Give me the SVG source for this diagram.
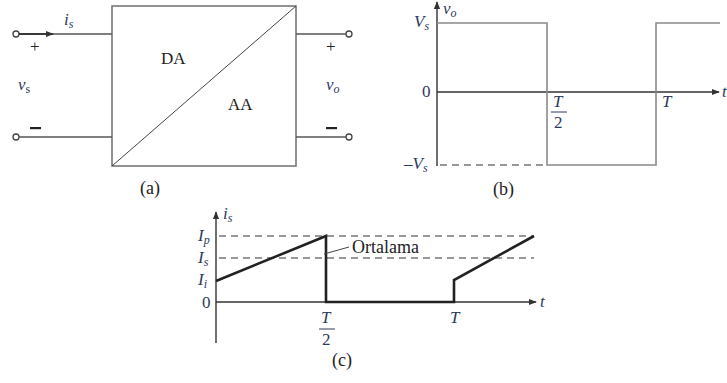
<svg xmlns="http://www.w3.org/2000/svg" width="727" height="383" viewBox="0 0 727 383">
<style>
.w{stroke:#555;stroke-width:1.6;fill:none}
.ax{stroke:#333;stroke-width:1.4;fill:none}
.g{stroke:#8a8a8a;stroke-width:1.6;fill:none}
.d{stroke:#333;stroke-width:1.2;fill:none;stroke-dasharray:7 5}
.wf{stroke:#222;stroke-width:2.6;fill:none}
.t{font-family:"Liberation Serif",serif;font-size:17px;fill:#222}
.cap{font-family:"Liberation Serif",serif;font-size:18px;fill:#222}
.m{font-family:"Liberation Serif",serif;font-size:17px;fill:#2e3a5c;font-style:italic}
.n{font-family:"Liberation Serif",serif;font-size:17px;fill:#2e3a5c}
.sub{font-size:12px}
</style>
<defs>
<marker id="ah" viewBox="0 0 10 10" refX="9" refY="5" markerWidth="8" markerHeight="8" markerUnits="userSpaceOnUse" orient="auto"><path d="M0,1 L10,5 L0,9 z" fill="#333"/></marker>
</defs>
<g id="panel-a">
<g id="converter">
<rect x="112" y="6" width="184" height="160" fill="#fff" stroke="#777" stroke-width="1.6"/>
<line x1="112" y1="166" x2="296" y2="6" stroke="#444" stroke-width="1"/>
<text class="t" x="161" y="64">DA</text>
<text class="t" x="228" y="110">AA</text>
</g>
<g id="input-terminals">
<circle cx="16" cy="34" r="3" fill="#fff" stroke="#444" stroke-width="1.3"/>
<circle cx="16" cy="137" r="3" fill="#fff" stroke="#444" stroke-width="1.3"/>
<text class="t" x="30" y="52" fill="#555">+</text>
<rect x="30" y="127" width="11" height="2.2" fill="#222"/>
<text class="m" x="18" y="90">v<tspan class="sub" font-style="normal" dy="3">s</tspan></text>
<text class="m" x="64" y="25">i<tspan class="sub" dy="3">s</tspan></text>
</g>
<g id="output-terminals">
<circle cx="349" cy="34" r="3" fill="#fff" stroke="#444" stroke-width="1.3"/>
<circle cx="349" cy="137" r="3" fill="#fff" stroke="#444" stroke-width="1.3"/>
<text class="t" x="326" y="52" fill="#555">+</text>
<rect x="326" y="127" width="11" height="2.2" fill="#222"/>
<text class="m" x="326" y="90">v<tspan class="sub" dy="3">o</tspan></text>
</g>
<text class="cap" x="140" y="194">(a)</text>
</g>
<g id="connectors">
<line class="w" x1="19" y1="34" x2="112" y2="34"/>
<line x1="19" y1="34" x2="53" y2="34" stroke="#222" stroke-width="1.4" marker-end="url(#ah)"/>
<line class="w" x1="19" y1="137" x2="112" y2="137"/>
<line class="w" x1="296" y1="34" x2="346" y2="34"/>
<line class="w" x1="296" y1="137" x2="346" y2="137"/>
</g>
<g id="panel-b">
<line class="ax" x1="437" y1="166" x2="437" y2="2" marker-end="url(#ah)"/>
<line class="ax" x1="437" y1="92" x2="719" y2="92" marker-end="url(#ah)"/>
<line class="d" x1="440" y1="165" x2="546" y2="165"/>
<polyline class="g" points="437,23 547,23 547,165 656,165 656,23 720,23"/>
<text class="m" x="414" y="27">V<tspan class="sub" dy="3">s</tspan></text>
<text class="m" x="443" y="14">v<tspan class="sub" dy="3">o</tspan></text>
<text class="n" x="422" y="97">0</text>
<text class="m" x="404" y="169">–V<tspan class="sub" dy="3">s</tspan></text>
<text class="m" x="553" y="107">T</text>
<line x1="551" y1="112" x2="567" y2="112" stroke="#2e3a5c" stroke-width="1"/>
<text class="n" x="554" y="128">2</text>
<text class="m" x="662" y="107">T</text>
<text class="n" x="722" y="97" font-style="italic">t</text>
<text class="cap" x="493" y="195">(b)</text>
</g>
<g id="panel-c">
<line class="ax" x1="216" y1="343" x2="216" y2="212" marker-end="url(#ah)"/>
<line class="ax" x1="216" y1="302" x2="536" y2="302" marker-end="url(#ah)"/>
<line class="d" x1="219" y1="236" x2="534" y2="236"/>
<line class="d" x1="219" y1="258" x2="534" y2="258"/>
<polyline class="wf" points="216,281 326,236 326,302 454,302 454,280 534,236"/>
<line x1="349" y1="247" x2="324" y2="254" stroke="#444" stroke-width="1"/>
<text class="t" x="352" y="253" font-size="18" style="font-size:18px">Ortalama</text>
<text class="m" x="198" y="241">I<tspan class="sub" dy="3">p</tspan></text>
<text class="m" x="198" y="263">I<tspan class="sub" dy="3">s</tspan></text>
<text class="m" x="198" y="285">I<tspan class="sub" dy="3">i</tspan></text>
<text class="n" x="202" y="308">0</text>
<text class="m" x="223" y="219">i<tspan class="sub" dy="3">s</tspan></text>
<text class="m" x="321" y="323">T</text>
<line x1="319" y1="329" x2="335" y2="329" stroke="#2e3a5c" stroke-width="1"/>
<text class="n" x="322" y="345">2</text>
<text class="m" x="450" y="323">T</text>
<text class="n" x="540" y="307" font-style="italic">t</text>
<text class="cap" x="332" y="366">(c)</text>
</g>
</svg>
